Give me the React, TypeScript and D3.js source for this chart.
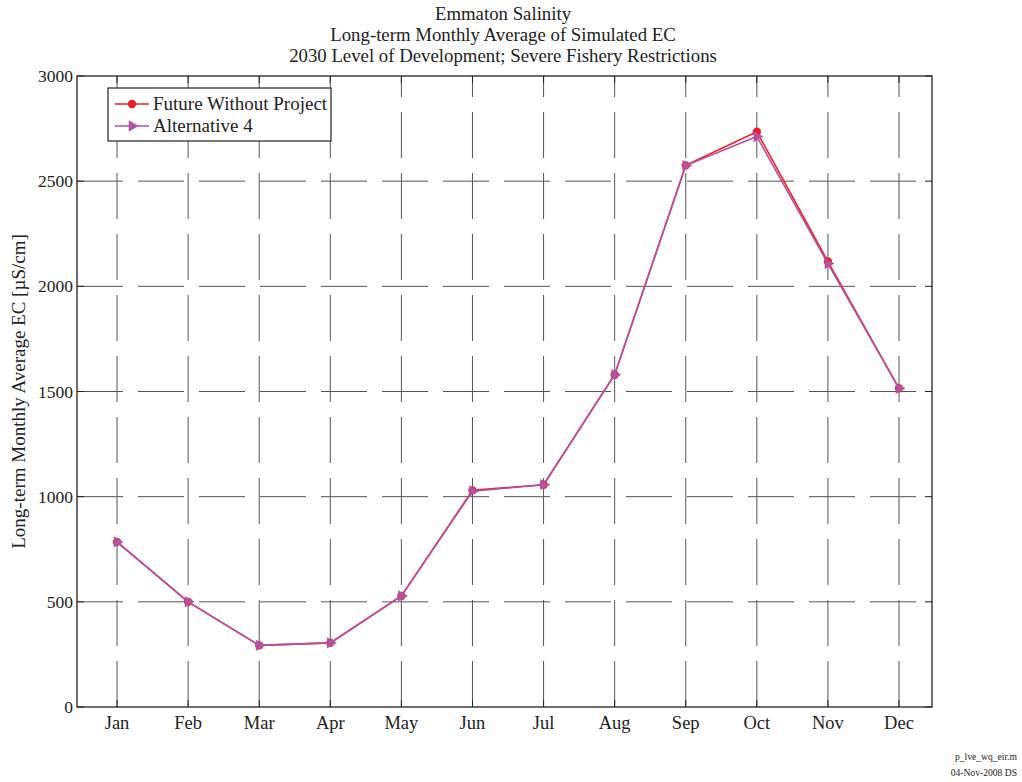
import { useEffect, useRef } from 'react'
import * as d3 from 'd3'

const months = ['Jan', 'Feb', 'Mar', 'Apr', 'May', 'Jun', 'Jul', 'Aug', 'Sep', 'Oct', 'Nov', 'Dec']
const futureWithout = [785, 500, 293, 305, 528, 1030, 1057, 1580, 2575, 2735, 2118, 1515]
const alternative4 = [785, 500, 293, 305, 528, 1026, 1057, 1580, 2574, 2712, 2108, 1515]
const yTicks = [0, 500, 1000, 1500, 2000, 2500, 3000]
const titleLines = [
  'Emmaton Salinity',
  'Long-term Monthly Average of Simulated EC',
  '2030 Level of Development; Severe Fishery Restrictions',
]

const RED = '#ee1c25'
const PURPLE = '#b5529f'
const FONT = '"Liberation Serif", "Times New Roman", serif'

export default function App() {
  const svgRef = useRef<SVGSVGElement>(null)

  useEffect(() => {
    if (!svgRef.current) return
    const svg = d3.select(svgRef.current)
    svg.selectAll('*').remove()

    const W = 1022, H = 782
    const m = { top: 76, right: 90, bottom: 75, left: 77 }
    const x = d3.scaleLinear().domain([0.437, 12.464]).range([m.left, W - m.right])
    const y = d3.scaleLinear().domain([0, 3000]).range([H - m.bottom, m.top])
    const x0 = m.left, x1 = W - m.right, y0 = H - m.bottom, y1 = m.top

    svg.append('rect').attr('width', W).attr('height', H).attr('fill', '#fff')

    // grid
    const grid = svg.append('g').attr('stroke', '#555').attr('stroke-width', 1).attr('stroke-dasharray', '46,15')
    yTicks.slice(1, -1).forEach(t => {
      grid.append('line').attr('x1', x0).attr('x2', x1).attr('y1', y(t)).attr('y2', y(t))
    })
    months.forEach((_, i) => {
      grid.append('line').attr('x1', x(i + 1)).attr('x2', x(i + 1)).attr('y1', y0).attr('y2', y1)
    })

    // ticks (inward, all four sides)
    const tk = svg.append('g').attr('stroke', '#222').attr('stroke-width', 1)
    yTicks.forEach(t => {
      tk.append('line').attr('x1', x0).attr('x2', x0 + 7).attr('y1', y(t)).attr('y2', y(t))
      tk.append('line').attr('x1', x1).attr('x2', x1 - 7).attr('y1', y(t)).attr('y2', y(t))
    })
    months.forEach((_, i) => {
      tk.append('line').attr('x1', x(i + 1)).attr('x2', x(i + 1)).attr('y1', y0).attr('y2', y0 - 7)
      tk.append('line').attr('x1', x(i + 1)).attr('x2', x(i + 1)).attr('y1', y1).attr('y2', y1 + 7)
    })

    svg.append('rect').attr('x', x0).attr('y', y1).attr('width', x1 - x0).attr('height', y0 - y1)
      .attr('fill', 'none').attr('stroke', '#222').attr('stroke-width', 1.3)

    // tick labels
    svg.append('g').selectAll('text').data(yTicks).join('text')
      .attr('x', x0 - 4).attr('y', d => y(d) + 6).attr('text-anchor', 'end')
      .attr('font-family', FONT).attr('font-size', 17.5).attr('fill', '#222').text(d => d)
    svg.append('g').selectAll('text').data(months).join('text')
      .attr('x', (_, i) => x(i + 1)).attr('y', y0 + 22).attr('text-anchor', 'middle')
      .attr('font-family', FONT).attr('font-size', 18.5).attr('fill', '#222').text(d => d)

    // titles
    titleLines.forEach((t, i) => {
      svg.append('text').attr('x', 503).attr('y', 20 + i * 21).attr('text-anchor', 'middle')
        .attr('font-family', FONT).attr('font-size', 18.8).attr('fill', '#222').text(t)
    })
    svg.append('text').attr('transform', `translate(25,${(y0 + y1) / 2}) rotate(-90)`)
      .attr('text-anchor', 'middle').attr('font-family', FONT).attr('font-size', 19).attr('fill', '#222')
      .text('Long-term Monthly Average EC [\u00b5S/cm]')

    // series
    const line = d3.line<number>().x((_, i) => x(i + 1)).y(d => y(d))
    const tri = d3.symbol().type(d3.symbolTriangle).size(55)

    svg.append('path').datum(futureWithout).attr('fill', 'none').attr('stroke', RED).attr('stroke-width', 1.6).attr('d', line)
    svg.append('g').selectAll('circle').data(futureWithout).join('circle')
      .attr('cx', (_, i) => x(i + 1)).attr('cy', d => y(d)).attr('r', 4.2).attr('fill', RED)

    svg.append('path').datum(alternative4).attr('fill', 'none').attr('stroke', PURPLE).attr('stroke-width', 1.6).attr('d', line)
    svg.append('g').selectAll('path').data(alternative4).join('path')
      .attr('d', tri).attr('fill', PURPLE)
      .attr('transform', (d, i) => `translate(${x(i + 1)},${y(d)}) rotate(90)`)

    // legend
    const lg = svg.append('g').attr('transform', 'translate(108,88)')
    lg.append('rect').attr('width', 223).attr('height', 53).attr('fill', '#fff').attr('stroke', '#222').attr('stroke-width', 1.2)
    const entries = [
      { label: 'Future Without Project', color: RED, marker: 'circle' },
      { label: 'Alternative 4', color: PURPLE, marker: 'tri' },
    ]
    entries.forEach((e, i) => {
      const cy = 16 + i * 22
      lg.append('line').attr('x1', 7).attr('x2', 41).attr('y1', cy).attr('y2', cy).attr('stroke', e.color).attr('stroke-width', 1.6)
      if (e.marker === 'circle') lg.append('circle').attr('cx', 24).attr('cy', cy).attr('r', 4.2).attr('fill', e.color)
      else lg.append('path').attr('d', tri).attr('fill', e.color).attr('transform', `translate(24,${cy}) rotate(90)`)
      lg.append('text').attr('x', 45).attr('y', cy + 6).attr('font-family', FONT).attr('font-size', 19).attr('fill', '#222').text(e.label)
    })

    // footer
    svg.append('text').attr('x', 1017).attr('y', 760).attr('text-anchor', 'end')
      .attr('font-family', FONT).attr('font-size', 9.6).attr('fill', '#222').text('p_lve_wq_eir.m')
    svg.append('text').attr('x', 1017).attr('y', 776).attr('text-anchor', 'end')
      .attr('font-family', FONT).attr('font-size', 9.6).attr('fill', '#222').text('04-Nov-2008 DS')
  }, [])

  return (
    <svg ref={svgRef} width={1022} height={782} style={{ position: 'absolute', left: 0, top: 0 }} />
  )
}
